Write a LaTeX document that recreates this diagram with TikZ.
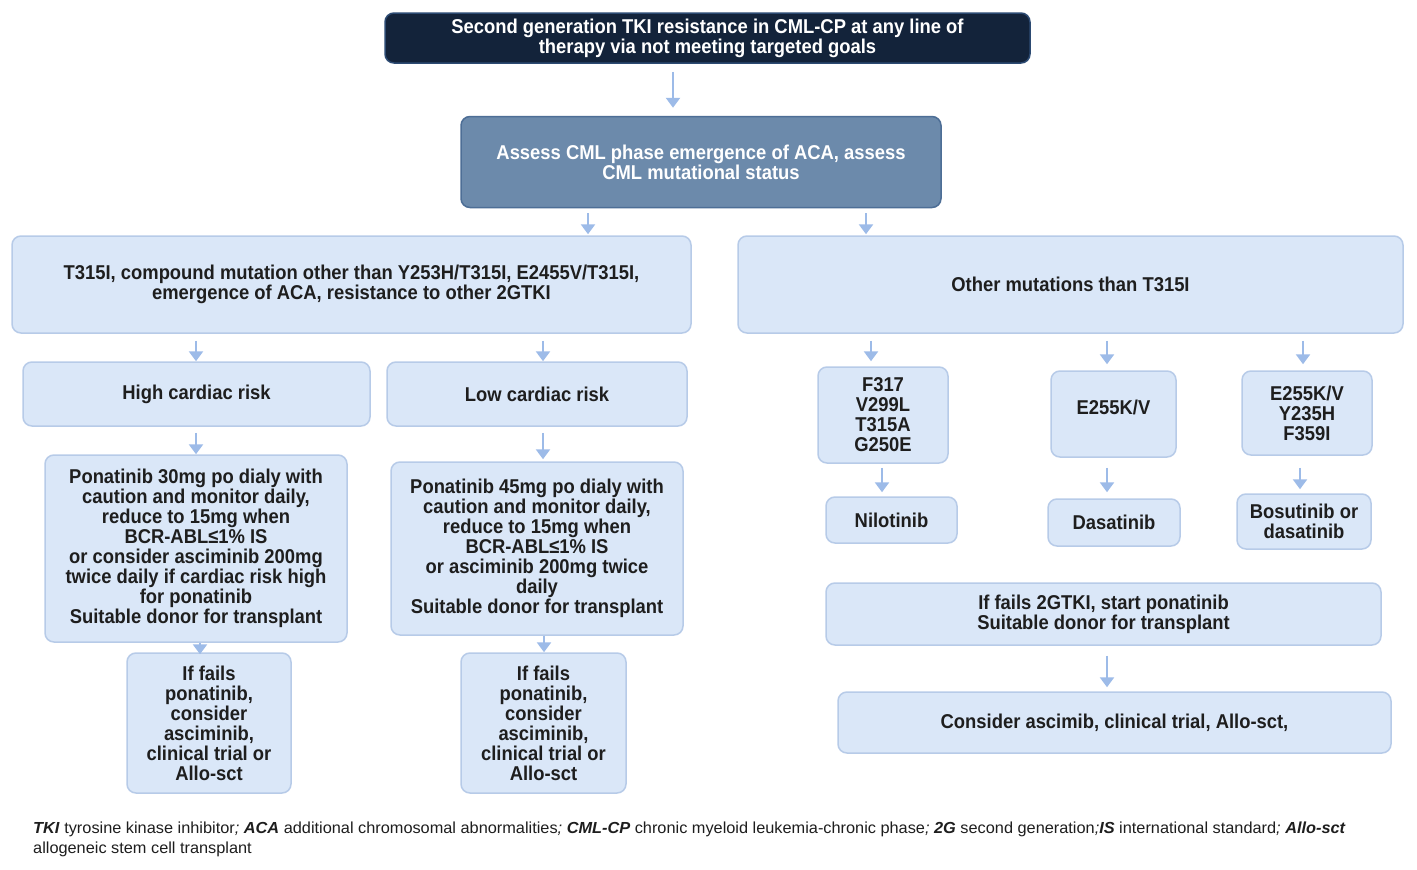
\documentclass[tikz,border=0pt]{standalone}
\usepackage{fontspec}
\setmainfont[FakeStretch=0.92]{Liberation Sans}
\newfontfamily\footfont[FakeStretch=1.02]{Liberation Sans}
\usetikzlibrary{arrows.meta}
\definecolor{navy}{HTML}{13233A}
\definecolor{navyborder}{HTML}{2C4A72}
\definecolor{steel}{HTML}{6C8AAB}
\definecolor{steelborder}{HTML}{4D6E96}
\definecolor{boxfill}{HTML}{DAE7F8}
\definecolor{boxborder}{HTML}{B7CBE8}
\definecolor{arrowc}{HTML}{9DBBE8}
\definecolor{textc}{HTML}{1E1E1E}
\tikzset{
  basebox/.style={rounded corners=9pt, line width=1.5pt, inner sep=0pt, align=center,
    font=\fontsize{20}{20}\selectfont\bfseries},
  lbox/.style={basebox, draw=boxborder, fill=boxfill, text=textc},
  darkbox/.style={basebox, draw=navyborder, fill=navy, text=white},
  midbox/.style={basebox, draw=steelborder, fill=steel, text=white},
  arr/.style={draw=arrowc, line width=2.5pt, -{Triangle[width=14pt,length=10pt]}},
}
\begin{document}
\begin{tikzpicture}[x=1pt,y=-1pt]
\useasboundingbox[fill=white] (0,0) rectangle (1417,870);

\node[darkbox, minimum width=645pt, minimum height=50pt] (top) at (707.5,38)
  {Second generation TKI resistance in CML-CP at any line of\\therapy via not meeting targeted goals};
\node[midbox, minimum width=480pt, minimum height=91pt] (assess) at (701,162)
  {Assess CML phase emergence of ACA, assess\\CML mutational status};

\node[lbox, minimum width=679pt, minimum height=97pt] (boxL) at (351.5,284.5)
  {T315I, compound mutation other than Y253H/T315I, E2455V/T315I,\\emergence of ACA, resistance to other 2GTKI};
\node[lbox, minimum width=665pt, minimum height=97pt] (boxR) at (1070.5,284.5)
  {Other mutations than T315I};

\node[lbox, minimum width=347pt, minimum height=64pt] (high) at (196.5,394) {High cardiac risk};
\node[lbox, minimum width=300pt, minimum height=64pt] (low) at (537,394) {Low cardiac risk};

\node[lbox, minimum width=302pt, minimum height=187pt] (pon30) at (196,548.5)
  {Ponatinib 30mg po dialy with\\caution and monitor daily,\\reduce to 15mg when\\BCR-ABL≤1\% IS\\or consider asciminib 200mg\\twice daily if cardiac risk high\\for ponatinib\\Suitable donor for transplant};
\node[lbox, minimum width=292pt, minimum height=173pt] (pon45) at (537,548.5)
  {Ponatinib 45mg po dialy with\\caution and monitor daily,\\reduce to 15mg when\\BCR-ABL≤1\% IS\\or asciminib 200mg twice\\daily\\Suitable donor for transplant};

\node[lbox, minimum width=164pt, minimum height=140pt] (failL) at (209,723)
  {If fails\\ponatinib,\\consider\\asciminib,\\clinical trial or\\Allo-sct};
\node[lbox, minimum width=165pt, minimum height=140pt] (failR) at (543.5,723)
  {If fails\\ponatinib,\\consider\\asciminib,\\clinical trial or\\Allo-sct};

\node[lbox, minimum width=130pt, minimum height=96pt] (f317) at (883,415)
  {F317\\V299L\\T315A\\G250E};
\node[lbox, minimum width=125pt, minimum height=86pt] (e255) at (1113.5,414)
  {\raisebox{7pt}[\height][\depth]{E255K/V}};
\node[lbox, minimum width=130pt, minimum height=84pt] (e255b) at (1307,413)
  {E255K/V\\Y235H\\F359I};

\node[lbox, minimum width=131pt, minimum height=46pt] (nilo) at (891.5,520) {Nilotinib};
\node[lbox, minimum width=132pt, minimum height=47pt] (dasa) at (1114,522.5) {Dasatinib};
\node[lbox, minimum width=134pt, minimum height=55pt] (bosu) at (1304,521.5) {Bosutinib or\\dasatinib};

\node[lbox, minimum width=555pt, minimum height=62pt] (fails2) at (1103.5,614)
  {If fails 2GTKI, start ponatinib\\Suitable donor for transplant};
\node[lbox, minimum width=553pt, minimum height=61pt] (consider) at (1114.5,722.5)
  {Consider ascimib, clinical trial, Allo-sct,};

\draw[arr, shorten <=8pt, shorten >=8pt] (top.south -| 673,0) -- (assess.north -| 673,0);
\draw[arr, shorten <=5pt, shorten >=1pt] (assess.south -| 588,0) -- (boxL.north -| 588,0);
\draw[arr, shorten <=5pt, shorten >=1pt] (assess.south -| 866,0) -- (boxR.north -| 866,0);
\draw[arr, shorten <=7pt, shorten >=0pt] (boxL.south -| 196,0) -- (high.north -| 196,0);
\draw[arr, shorten <=7pt, shorten >=0pt] (boxL.south -| 543,0) -- (low.north -| 543,0);
\draw[arr, shorten <=6pt, shorten >=0pt] (high.south -| 196,0) -- (pon30.north -| 196,0);
\draw[arr, shorten <=6pt, shorten >=2pt] (low.south -| 543,0) -- (pon45.north -| 543,0);
\draw[arr, shorten <=0pt, shorten >=-2pt] (pon30.south -| 200,0) -- (failL.north -| 200,0);
\draw[arr, shorten <=0pt, shorten >=0pt] (pon45.south -| 544,0) -- (failR.north -| 544,0);
\draw[arr, shorten <=7pt, shorten >=5pt] (boxR.south -| 871,0) -- (f317.north -| 871,0);
\draw[arr, shorten <=7pt, shorten >=6pt] (boxR.south -| 1107,0) -- (e255.north -| 1107,0);
\draw[arr, shorten <=7pt, shorten >=6pt] (boxR.south -| 1303,0) -- (e255b.north -| 1303,0);
\draw[arr, shorten <=4pt, shorten >=4pt] (f317.south -| 882,0) -- (nilo.north -| 882,0);
\draw[arr, shorten <=10pt, shorten >=6pt] (e255.south -| 1107,0) -- (dasa.north -| 1107,0);
\draw[arr, shorten <=12pt, shorten >=4pt] (e255b.south -| 1300,0) -- (bosu.north -| 1300,0);
\draw[arr, shorten <=10pt, shorten >=4pt] (fails2.south -| 1107,0) -- (consider.north -| 1107,0);

\node[anchor=north west, inner sep=0pt, align=left, text=textc,
  font=\footfont\fontsize{16}{20}\selectfont] (foot) at (33,822)
  {\textbf{\textit{TKI}} tyrosine kinase inhibitor\textit{; }\textbf{\textit{ACA}} additional chromosomal abnormalities\textit{; }\textbf{\textit{CML-CP}} chronic myeloid leukemia-chronic phase\textit{; }\textbf{\textit{2G}} second generation\textit{;}\textbf{\textit{IS}} international standard\textit{; }\textbf{\textit{Allo-sct}}\\allogeneic stem cell transplant};
\end{tikzpicture}
\end{document}
